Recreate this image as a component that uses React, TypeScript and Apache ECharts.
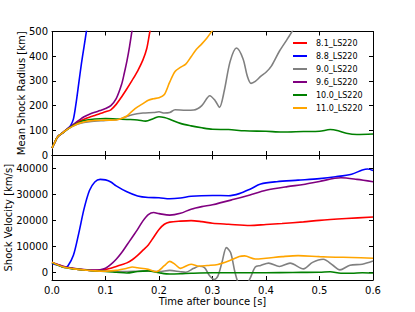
import React, { useEffect, useRef } from "react";
import * as echarts from "echarts";

type P = [number, number];

const seriesNames = ["8.1_LS220", "8.8_LS220", "9.0_LS220", "9.6_LS220", "10.0_LS220", "11.0_LS220"];
const seriesColors = ["#ff0000", "#0000ff", "#808080", "#800080", "#008000", "#ffa500"];

const xTicks = [0, 0.1, 0.2, 0.3, 0.4, 0.5, 0.6];
const radiusTicks = [0, 100, 200, 300, 400, 500];
const velocityTicks = [0, 10000, 20000, 30000, 40000];

// Mean shock radius [km] vs time [s]
const radius81: P[] = [[0, 28], [0.005, 50], [0.01, 72], [0.015, 82], [0.02, 90], [0.03, 108], [0.04, 122], [0.05, 135], [0.06, 145], [0.07, 153], [0.08, 160], [0.09, 168], [0.1, 175], [0.11, 183], [0.12, 205], [0.13, 235], [0.14, 268], [0.15, 303], [0.16, 340], [0.17, 385], [0.177, 430], [0.183, 500], [0.19, 570]];
const radius88: P[] = [[0, 28], [0.005, 50], [0.01, 72], [0.015, 82], [0.02, 90], [0.03, 108], [0.035, 120], [0.04, 145], [0.045, 210], [0.05, 290], [0.055, 370], [0.06, 440], [0.065, 510], [0.07, 580]];
const radius90: P[] = [[0, 28], [0.005, 50], [0.01, 72], [0.015, 82], [0.02, 90], [0.03, 106], [0.04, 118], [0.05, 127], [0.07, 135], [0.1, 140], [0.12, 143], [0.13, 148], [0.15, 163], [0.17, 170], [0.19, 172], [0.2, 175], [0.21, 170], [0.22, 172], [0.23, 183], [0.25, 181], [0.265, 182], [0.28, 200], [0.295, 240], [0.305, 220], [0.313, 193], [0.322, 260], [0.333, 379], [0.345, 433], [0.357, 390], [0.365, 320], [0.372, 290], [0.38, 298], [0.39, 318], [0.4, 335], [0.41, 360], [0.425, 420], [0.44, 470], [0.45, 505], [0.46, 545]];
const radius96: P[] = [[0, 28], [0.005, 50], [0.01, 72], [0.015, 82], [0.02, 90], [0.03, 108], [0.04, 124], [0.05, 140], [0.06, 155], [0.07, 165], [0.08, 173], [0.09, 180], [0.1, 188], [0.11, 200], [0.12, 228], [0.13, 285], [0.135, 330], [0.14, 380], [0.145, 440], [0.15, 510], [0.155, 580]];
const radius100: P[] = [[0, 28], [0.005, 50], [0.01, 72], [0.015, 82], [0.02, 90], [0.03, 106], [0.04, 120], [0.05, 131], [0.06, 140], [0.08, 146], [0.1, 148], [0.12, 146], [0.14, 144], [0.16, 142], [0.175, 137], [0.19, 148], [0.2, 155], [0.21, 152], [0.22, 145], [0.24, 128], [0.26, 118], [0.28, 110], [0.3, 104], [0.33, 103], [0.36, 98], [0.4, 96], [0.43, 93], [0.47, 95], [0.5, 96], [0.52, 103], [0.535, 98], [0.55, 88], [0.57, 83], [0.6, 85]];
const radius110: P[] = [[0, 28], [0.005, 50], [0.01, 72], [0.015, 82], [0.02, 90], [0.03, 106], [0.04, 118], [0.05, 128], [0.07, 138], [0.1, 141], [0.12, 142], [0.13, 148], [0.14, 158], [0.15, 178], [0.16, 195], [0.17, 208], [0.18, 222], [0.19, 228], [0.2, 232], [0.21, 245], [0.22, 295], [0.23, 338], [0.24, 355], [0.25, 368], [0.26, 398], [0.27, 428], [0.28, 450], [0.29, 475], [0.3, 505], [0.31, 535]];

// Shock velocity [km/s] vs time [s]
const velocity81: P[] = [[0, 3700], [0.02, 2300], [0.04, 1400], [0.06, 900], [0.08, 700], [0.1, 1000], [0.11, 1500], [0.12, 2200], [0.13, 2900], [0.14, 3600], [0.15, 4800], [0.16, 6500], [0.17, 8500], [0.18, 10500], [0.19, 13500], [0.2, 16500], [0.21, 18500], [0.22, 19300], [0.24, 19700], [0.26, 19900], [0.28, 19500], [0.3, 18900], [0.33, 18500], [0.37, 18000], [0.4, 18400], [0.43, 18800], [0.47, 19400], [0.5, 20000], [0.55, 20700], [0.6, 21300]];
const velocity88: P[] = [[0, 3400], [0.01, 2800], [0.02, 2100], [0.025, 1900], [0.03, 2500], [0.04, 6500], [0.05, 15000], [0.06, 24500], [0.07, 31500], [0.08, 34800], [0.09, 35800], [0.1, 35600], [0.11, 34800], [0.12, 33300], [0.14, 31000], [0.16, 29400], [0.18, 28800], [0.2, 28700], [0.22, 28300], [0.24, 28600], [0.26, 29300], [0.3, 29600], [0.33, 29500], [0.35, 30300], [0.37, 32000], [0.39, 34000], [0.42, 34900], [0.46, 35500], [0.5, 36100], [0.53, 36800], [0.56, 37800], [0.58, 39400], [0.59, 39800], [0.6, 39200]];
const velocity90: P[] = [[0, 3700], [0.02, 2000], [0.04, 1300], [0.06, 900], [0.08, 500], [0.1, 400], [0.12, 300], [0.14, 300], [0.16, 400], [0.18, 500], [0.2, 300], [0.22, 700], [0.24, 200], [0.25, 0], [0.265, 1500], [0.275, 2300], [0.285, 1800], [0.295, -1500], [0.303, -2800], [0.31, -1500], [0.318, 4000], [0.326, 9500], [0.334, 7500], [0.342, 0], [0.35, -5000], [0.36, -6000], [0.37, -2500], [0.38, 2000], [0.39, 2600], [0.405, 3500], [0.425, 2200], [0.445, 3500], [0.47, 1300], [0.487, 3800], [0.507, 5000], [0.525, 2700], [0.538, 900], [0.557, 2700], [0.58, 3100], [0.6, 4300]];
const velocity96: P[] = [[0, 3700], [0.02, 2300], [0.04, 1500], [0.06, 1000], [0.08, 800], [0.09, 900], [0.1, 1500], [0.11, 3000], [0.12, 5000], [0.13, 7500], [0.14, 10500], [0.15, 13500], [0.16, 16500], [0.17, 19800], [0.18, 22200], [0.19, 23000], [0.2, 22600], [0.22, 22000], [0.24, 22700], [0.26, 24300], [0.28, 25300], [0.3, 26000], [0.34, 28100], [0.37, 29800], [0.4, 31600], [0.44, 33000], [0.47, 33800], [0.5, 35000], [0.54, 36400], [0.57, 35800], [0.6, 34900]];
const velocity100: P[] = [[0, 3700], [0.02, 2000], [0.04, 1300], [0.06, 900], [0.08, 500], [0.1, 300], [0.12, 0], [0.14, -300], [0.16, 300], [0.18, 500], [0.2, -200], [0.22, -700], [0.24, -600], [0.26, -400], [0.3, -200], [0.35, -200], [0.4, -200], [0.45, -100], [0.5, 0], [0.52, 200], [0.54, -400], [0.56, -400], [0.58, -200], [0.6, -300]];
const velocity110: P[] = [[0, 3900], [0.02, 2100], [0.04, 1300], [0.06, 900], [0.08, 500], [0.1, 400], [0.12, 700], [0.14, 1500], [0.15, 2000], [0.16, 1700], [0.18, 1100], [0.195, 200], [0.21, 2500], [0.22, 4200], [0.23, 3000], [0.24, 1500], [0.26, 3100], [0.275, 2300], [0.29, 2600], [0.31, 3000], [0.33, 4300], [0.35, 6100], [0.36, 6300], [0.38, 5100], [0.4, 5400], [0.43, 6000], [0.46, 6400], [0.5, 6000], [0.53, 5800], [0.56, 5700], [0.6, 5400]];

const radiusData = [radius81, radius88, radius90, radius96, radius100, radius110];
const velocityData = [velocity81, velocity88, velocity90, velocity96, velocity100, velocity110];

const FONT = "DejaVu Sans";
const txt = { fontFamily: FONT, fontSize: 10, color: "#000" };

export default function App() {
  const ref = useRef<HTMLDivElement>(null);
  useEffect(() => {
    if (!ref.current) return;
    const chart = echarts.init(ref.current, undefined, { renderer: "svg" });
    const line = { show: true, onZero: false, lineStyle: { color: "#000", width: 1 } };
    const tick = { show: true, inside: true, length: 4, lineStyle: { color: "#000", width: 1 } };
    const xBase = (grid: number, pos: string, labels: boolean) => ({
      type: "value",
      gridIndex: grid,
      position: pos,
      min: xTicks[0],
      max: xTicks[xTicks.length - 1],
      interval: 0.1,
      axisLine: line,
      axisTick: tick,
      splitLine: { show: false },
      axisLabel: labels
        ? { show: true, margin: 5, ...txt, formatter: (v: number) => v.toFixed(1) }
        : { show: false },
    });
    const yTop = (pos: string, labels: boolean) => ({
      type: "value",
      gridIndex: 0,
      position: pos,
      min: radiusTicks[0],
      max: radiusTicks[radiusTicks.length - 1],
      interval: 100,
      axisLine: line,
      axisTick: tick,
      splitLine: { show: false },
      axisLabel: labels ? { show: true, margin: 4, ...txt } : { show: false },
    });
    const yBot = (pos: string, labels: boolean) => ({
      type: "value",
      gridIndex: 1,
      position: pos,
      min: -3000,
      max: 45000,
      splitNumber: 5,
      axisLine: line,
      axisTick: tick,
      splitLine: { show: false },
      axisLabel: labels
        ? {
            show: true,
            margin: 4,
            showMinLabel: false,
            showMaxLabel: false,
            ...txt,
            formatter: (v: number) => (velocityTicks.includes(v) ? String(v) : ""),
          }
        : { show: false },
    });
    const series: any[] = [];
    seriesNames.forEach((name, i) => {
      series.push({
        name,
        type: "line",
        xAxisIndex: 0,
        yAxisIndex: 0,
        data: radiusData[i],
        smooth: 0.3,
        symbol: "none",
        clip: true,
        lineStyle: { color: seriesColors[i], width: 1.6 },
        itemStyle: { color: seriesColors[i] },
      });
    });
    seriesNames.forEach((name, i) => {
      series.push({
        name,
        type: "line",
        xAxisIndex: 2,
        yAxisIndex: 2,
        data: velocityData[i],
        smooth: 0.3,
        symbol: "none",
        clip: true,
        lineStyle: { color: seriesColors[i], width: 1.6 },
        itemStyle: { color: seriesColors[i] },
      });
    });
    chart.setOption({
      animation: false,
      backgroundColor: "#fff",
      grid: [
        { left: 52, top: 31.5, width: 321, height: 123.5 },
        { left: 52, top: 155.5, width: 321, height: 124.5 },
      ],
      xAxis: [
        xBase(0, "bottom", false),
        xBase(0, "top", false),
        xBase(1, "bottom", true),
        xBase(1, "top", false),
      ],
      yAxis: [
        yTop("left", true),
        yTop("right", false),
        yBot("left", true),
        yBot("right", false),
      ],
      graphic: [
        {
          type: "text",
          x: 21,
          y: 93.25,
          rotation: Math.PI / 2,
          style: { text: "Mean Shock Radius [km]", fontFamily: FONT, fontSize: 10, fill: "#000", textAlign: "center", textVerticalAlign: "middle" },
        },
        {
          type: "text",
          x: 8.5,
          y: 217.75,
          rotation: Math.PI / 2,
          style: { text: "Shock Velocity [km/s]", fontFamily: FONT, fontSize: 10, fill: "#000", textAlign: "center", textVerticalAlign: "middle" },
        },
        {
          type: "text",
          x: 212.5,
          y: 301.5,
          style: { text: "Time after bounce [s]", fontFamily: FONT, fontSize: 10, fill: "#000", textAlign: "center", textVerticalAlign: "middle" },
        },
      ],
      legend: {
        show: true,
        orient: "vertical",
        left: 293,
        top: 38,
        icon: "rect",
        itemWidth: 14,
        itemHeight: 2,
        itemGap: 3,
        padding: 0,
        data: seriesNames,
        textStyle: { fontFamily: FONT, fontSize: 8, color: "#000", lineHeight: 10, padding: [0, 0, 0, 4] },
      },
      series,
    });
    return () => chart.dispose();
  }, []);
  return (
    <div
      ref={ref}
      style={{ position: "absolute", left: 0, top: 0, width: 415, height: 312 }}
    />
  );
}
